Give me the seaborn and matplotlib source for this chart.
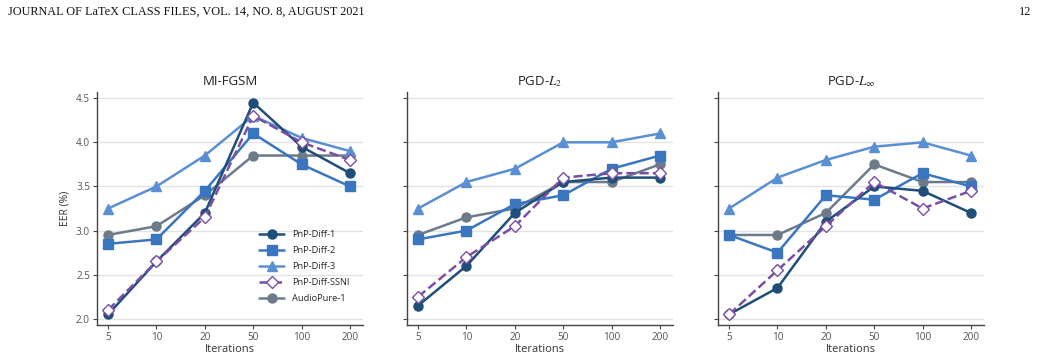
import numpy as np
import pandas as pd
import matplotlib
matplotlib.use("Agg")
import matplotlib.pyplot as plt
import seaborn as sns

iterations = ["5", "10", "20", "50", "100", "200"]
attacks = ["MI-FGSM", r"PGD-$L_2$", r"PGD-$L_\infty$"]
series = ["PnP-Diff-1", "PnP-Diff-2", "PnP-Diff-3", "PnP-Diff-SSNI", "AudioPure-1"]

mifgsm_diff1 = [2.05, 2.65, 3.20, 4.45, 3.95, 3.65]
mifgsm_diff2 = [2.85, 2.90, 3.45, 4.10, 3.75, 3.50]
mifgsm_diff3 = [3.25, 3.50, 3.85, 4.30, 4.05, 3.90]
mifgsm_ssni = [2.10, 2.65, 3.15, 4.30, 4.00, 3.80]
mifgsm_audiopure = [2.95, 3.05, 3.40, 3.85, 3.85, 3.85]

pgdl2_diff1 = [2.15, 2.60, 3.20, 3.55, 3.60, 3.60]
pgdl2_diff2 = [2.90, 3.00, 3.30, 3.40, 3.70, 3.85]
pgdl2_diff3 = [3.25, 3.55, 3.70, 4.00, 4.00, 4.10]
pgdl2_ssni = [2.25, 2.70, 3.05, 3.60, 3.65, 3.65]
pgdl2_audiopure = [2.95, 3.15, 3.25, 3.55, 3.55, 3.75]

pgdlinf_diff1 = [2.05, 2.35, 3.10, 3.50, 3.45, 3.20]
pgdlinf_diff2 = [2.95, 2.75, 3.40, 3.35, 3.65, 3.50]
pgdlinf_diff3 = [3.25, 3.60, 3.80, 3.95, 4.00, 3.85]
pgdlinf_ssni = [2.05, 2.55, 3.05, 3.55, 3.25, 3.45]
pgdlinf_audiopure = [2.95, 2.95, 3.20, 3.75, 3.55, 3.55]

data = {
    attacks[0]: [mifgsm_diff1, mifgsm_diff2, mifgsm_diff3, mifgsm_ssni, mifgsm_audiopure],
    attacks[1]: [pgdl2_diff1, pgdl2_diff2, pgdl2_diff3, pgdl2_ssni, pgdl2_audiopure],
    attacks[2]: [pgdlinf_diff1, pgdlinf_diff2, pgdlinf_diff3, pgdlinf_ssni, pgdlinf_audiopure],
}

rows = []
for att in attacks:
    for s, vals in zip(series, data[att]):
        for i, v in enumerate(vals):
            rows.append({"attack": att, "series": s, "pos": i, "EER": v})
df = pd.DataFrame(rows)

sns.set_theme(style="white")
plt.rcParams["font.family"] = ["Open Sans", "DejaVu Sans"]
plt.rcParams["mathtext.fontset"] = "stix"

colors = {
    "PnP-Diff-1": "#1f4e79",
    "PnP-Diff-2": "#3a76c0",
    "PnP-Diff-3": "#5b8fd4",
    "PnP-Diff-SSNI": "#7b4fa3",
    "AudioPure-1": "#6c7a8a",
}
markers = {"PnP-Diff-1": "o", "PnP-Diff-2": "s", "PnP-Diff-3": "^",
           "PnP-Diff-SSNI": "D", "AudioPure-1": "o"}
lstyles = {"PnP-Diff-1": "-", "PnP-Diff-2": "-", "PnP-Diff-3": "-",
           "PnP-Diff-SSNI": "--", "AudioPure-1": "-"}
zorders = {"PnP-Diff-1": 5, "PnP-Diff-2": 4, "PnP-Diff-3": 3, "PnP-Diff-SSNI": 6, "AudioPure-1": 2}

fig = plt.figure(figsize=(10.41, 3.64), dpi=100)
W, H = 1041, 364
lefts = [97, 407, 718]
width = 266
top, bottom = 92, 325
for k, att in enumerate(attacks):
    ax = fig.add_axes([lefts[k] / W, 1 - bottom / H, width / W, (bottom - top) / H])
    sub = df[df["attack"] == att]
    handles = []
    for s in series:
        d = sub[sub["series"] == s]
        ssni = s == "PnP-Diff-SSNI"
        sns.lineplot(data=d, x="pos", y="EER", ax=ax, color=colors[s], marker=markers[s],
                     linestyle=lstyles[s], linewidth=1.8, zorder=zorders[s], legend=False,
                     markersize=5.8 if ssni else 6.5, markeredgewidth=1.0,
                     markerfacecolor="white" if ssni else colors[s],
                     markeredgecolor=colors[s])
        line = ax.lines[-1]
        line.set_label(s)
        handles.append(line)
    ax.set_xlim(-0.23, 5.27)
    ax.set_ylim(1.93, 4.57)
    ax.set_xticks(range(len(iterations)))
    ax.set_xticklabels(iterations)
    ax.set_yticks([2.0, 2.5, 3.0, 3.5, 4.0, 4.5])
    ax.yaxis.grid(True, color="#e3e3e3", linewidth=1.0)
    ax.set_axisbelow(True)
    for sp in ["top", "right"]:
        ax.spines[sp].set_visible(False)
    for sp in ["left", "bottom"]:
        ax.spines[sp].set_color("#444444")
        ax.spines[sp].set_linewidth(1.0)
    ax.tick_params(axis="both", which="both", direction="out", length=3, width=0.8,
                   color="#444444", labelsize=7.2, labelcolor="#555555", pad=2,
                   bottom=True, left=True)
    ax.set_xlabel("Iterations", fontsize=8, color="#333333", labelpad=1)
    ax.set_title(att, fontsize=9.5, color="#222222", pad=5)
    if k == 0:
        ax.set_ylabel("EER (%)", fontsize=7.5, color="#333333", labelpad=4)
        ax.yaxis.set_major_formatter(matplotlib.ticker.FormatStrFormatter("%.1f"))
        ax.legend(handles=handles, labels=series, loc="lower right", bbox_to_anchor=(0.97, 0.07),
                  frameon=False, fontsize=6.7, handlelength=2.7, labelspacing=0.75,
                  handletextpad=0.8, borderaxespad=0.2)
    else:
        ax.set_ylabel("")
        ax.set_yticklabels([])

fig.text(8 / W, 1 - 12 / H, "JOURNAL OF LaTeX CLASS FILES, VOL. 14, NO. 8, AUGUST 2021",
         family=["Liberation Serif", "DejaVu Serif"], fontsize=8.8, va="center", ha="left",
         color="#111111")
fig.text(1031 / W, 1 - 12 / H, "12", family=["Liberation Serif", "DejaVu Serif"],
         fontsize=8.8, va="center", ha="right", color="#111111")

fig.savefig("out.png", dpi=100)
